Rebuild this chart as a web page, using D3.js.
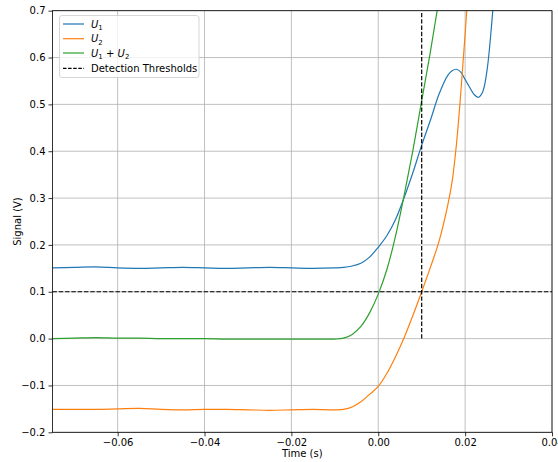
<!DOCTYPE html>
<html><head><meta charset="utf-8">
<script src="https://cdn.jsdelivr.net/npm/d3@7"></script>
<style>
body{margin:0;background:#fff}
text{font-family:"DejaVu Sans",sans-serif}
</style>
</head><body>
<svg id="c" width="558" height="462"></svg>
<script>
// ---- data ----
const time = [-0.075,-0.07,-0.065,-0.06,-0.055,-0.05,-0.045,-0.04,-0.035,-0.03,-0.025,-0.02,-0.015,-0.01,
  -0.008,-0.006,-0.004,-0.002,0,0.002,0.004,0.006,0.008,0.01,0.012,0.014,0.016,0.017,0.018,0.019,0.02,
  0.021,0.022,0.023,0.024,0.025,0.026,0.027];
const u1 = [0.151,0.152,0.153,0.151,0.150,0.151,0.152,0.151,0.150,0.151,0.152,0.151,0.150,0.151,
  0.152,0.155,0.161,0.174,0.195,0.220,0.255,0.302,0.355,0.413,0.466,0.522,0.562,0.572,0.575,0.569,0.553,
  0.537,0.522,0.515,0.526,0.570,0.660,0.780];
const u2 = [-0.151,-0.151,-0.151,-0.150,-0.149,-0.151,-0.152,-0.151,-0.151,-0.152,-0.153,-0.152,-0.151,-0.152,
  -0.151,-0.146,-0.135,-0.119,-0.102,-0.074,-0.038,0.003,0.050,0.100,0.152,0.208,0.285,0.335,0.415,0.525,0.650,
  0.790,null,null,null,null,null,null];
const u1u2 = [0.000,0.001,0.002,0.001,0.001,0.000,0.000,0.000,-0.001,-0.001,-0.001,-0.001,-0.001,-0.001,
  0.001,0.009,0.026,0.055,0.095,0.148,0.220,0.308,0.403,0.508,0.612,0.725,0.850,null,null,null,null,
  null,null,null,null,null,null,null];
const thresholdSignal = 0.1;
const thresholdTime = 0.01;
const xTicks = [-0.06,-0.04,-0.02,0.00,0.02,0.04];
const yTicks = [-0.2,-0.1,0.0,0.1,0.2,0.3,0.4,0.5,0.6,0.7];
const xDomain = [-0.075, 0.04];
const yDomain = [-0.2, 0.7];

// ---- layout ----
const L = 52.5, R = 552, T = 10.7, B = 432.3;
const svg = d3.select("#c");
const x = d3.scaleLinear().domain(xDomain).range([L, R]);
const y = d3.scaleLinear().domain(yDomain).range([B, T]);

svg.append("defs").append("clipPath").attr("id","clip")
  .append("rect").attr("x",L).attr("y",T).attr("width",R-L).attr("height",B-T);

// grid
const grid = svg.append("g").attr("stroke","#b0b0b0").attr("stroke-width",0.8);
xTicks.forEach(t => grid.append("line").attr("x1",x(t)).attr("x2",x(t)).attr("y1",T).attr("y2",B));
yTicks.forEach(t => grid.append("line").attr("x1",L).attr("x2",R).attr("y1",y(t)).attr("y2",y(t)));

// series
const series = [
  {name:"u1", vals:u1, color:"#1f77b4"},
  {name:"u2", vals:u2, color:"#ff7f0e"},
  {name:"sum", vals:u1u2, color:"#2ca02c"}
];
const line = d3.line().defined(d => d[1] != null).x(d => x(d[0])).y(d => y(d[1])).curve(d3.curveCatmullRom.alpha(0.5));
const plot = svg.append("g").attr("clip-path","url(#clip)");
series.forEach(s => {
  plot.append("path").datum(time.map((t,i) => [t, s.vals[i]]))
    .attr("d", line).attr("fill","none").attr("stroke", s.color).attr("stroke-width",1.2);
});
// thresholds
plot.append("line").attr("x1",x(xDomain[0])).attr("x2",x(xDomain[1]))
  .attr("y1",y(thresholdSignal)).attr("y2",y(thresholdSignal))
  .attr("stroke","#000").attr("stroke-width",1.2).attr("stroke-dasharray","4.4,1.9");
plot.append("line").attr("x1",x(thresholdTime)).attr("x2",x(thresholdTime))
  .attr("y1",y(0)).attr("y2",y(0.7))
  .attr("stroke","#000").attr("stroke-width",1.2).attr("stroke-dasharray","4.4,1.9");

// axes
const fmtX = d3.format(".2f"), fmtY = d3.format(".1f");
const xa = svg.append("g").attr("transform",`translate(0,${B})`)
  .call(d3.axisBottom(x).tickValues(xTicks).tickFormat(fmtX).tickSize(4).tickPadding(3).tickSizeOuter(0));
const ya = svg.append("g").attr("transform",`translate(${L},0)`)
  .call(d3.axisLeft(y).tickValues(yTicks).tickFormat(fmtY).tickSize(4).tickPadding(3).tickSizeOuter(0));
[xa, ya].forEach(a => {
  a.select(".domain").remove();
  a.selectAll("text").attr("font-size","10px").attr("fill","#000").style("font-family","DejaVu Sans");
  a.selectAll("line").attr("stroke","#000").attr("stroke-width",0.8);
});
// spines
svg.append("rect").attr("x",L).attr("y",T).attr("width",R-L).attr("height",B-T)
  .attr("fill","none").attr("stroke","#000").attr("stroke-width",0.8);

svg.append("text").attr("x",(L+R)/2).attr("y",457).attr("text-anchor","middle")
  .attr("font-size","10px").text("Time (s)");
svg.append("text").attr("transform",`translate(21,${(T+B)/2}) rotate(-90)`).attr("text-anchor","middle")
  .attr("font-size","10px").text("Signal (V)");

// legend
const lg = svg.append("g");
lg.append("rect").attr("x",59.5).attr("y",15.5).attr("width",139.5).attr("height",62).attr("rx",2.5)
  .attr("fill","#fff").attr("fill-opacity",0.8).attr("stroke","#cccccc").attr("stroke-width",0.8);
const rows = [
  {color:"#1f77b4", dash:null, parts:[["U","i"],["1","s"]]},
  {color:"#ff7f0e", dash:null, parts:[["U","i"],["2","s"]]},
  {color:"#2ca02c", dash:null, parts:[["U","i"],["1","s"],[" + ","n"],["U","i"],["2","s"]]},
  {color:"#000", dash:"3.5,1.6", parts:[["Detection Thresholds","n"]]}
];
const rowY = [24, 38.7, 53, 68.3];
rows.forEach((r,i) => {
  lg.append("line").attr("x1",63).attr("x2",84).attr("y1",rowY[i]).attr("y2",rowY[i])
    .attr("stroke",r.color).attr("stroke-width",1.2).attr("stroke-dasharray",r.dash);
  const t = lg.append("text").attr("x",91).attr("y",rowY[i]+3.6).attr("font-size","10px");
  let sub = false;
  r.parts.forEach(p => {
    const ts = t.append("tspan").text(p[0]);
    if (p[1]==="i") { ts.attr("font-style","italic"); if (sub) { ts.attr("dy",-2.5); sub=false; } }
    else if (p[1]==="s") { ts.attr("font-size","7px").attr("dy",2.5); sub = true; }
    else { if (sub) { ts.attr("dy",-2.5); sub=false; } }
  });
});
</script>
</body></html>
